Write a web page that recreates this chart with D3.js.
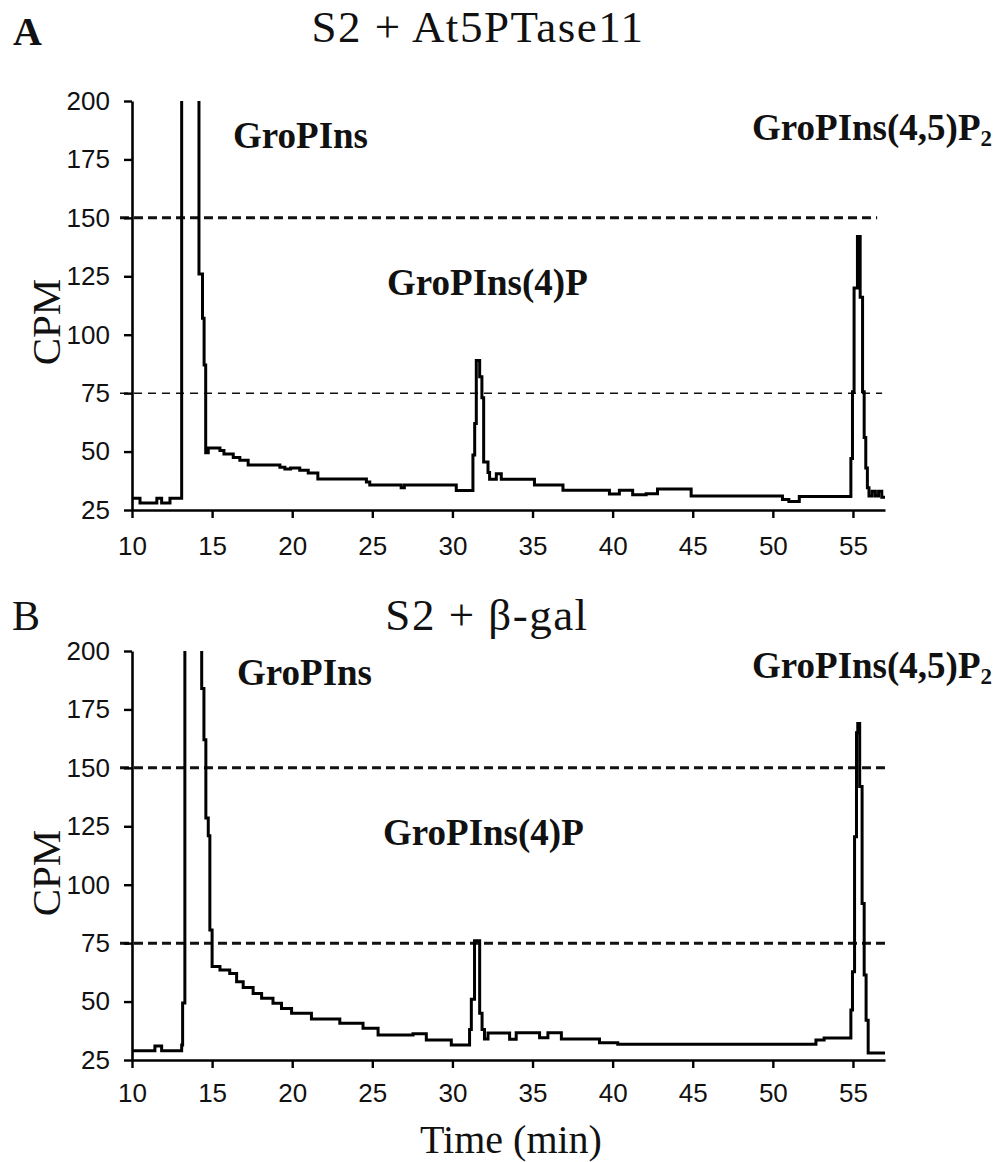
<!DOCTYPE html>
<html><head><meta charset="utf-8">
<script src="https://cdn.jsdelivr.net/npm/d3@7"></script>
<style>
body{margin:0;background:#fff;}
svg{display:block;}
</style></head>
<body>
<svg id="chart" width="1000" height="1162"></svg>
<script>
// ---- data ----
const xTicks = [10, 15, 20, 25, 30, 35, 40, 45, 50, 55];
const yTicks = [25, 50, 75, 100, 125, 150, 175, 200];
const xDomain = [10, 57];
const yDomain = [25, 200];

const timeA = [10.0, 10.5, 11.55, 11.85, 12.37, 13.1, 14.18, 14.4, 14.5, 14.6, 14.76, 15.49, 15.74, 16.32, 16.73, 17.25, 19.23, 19.54, 19.9, 20.47, 21.0, 21.6, 24.63, 24.84, 26.8, 27.0, 30.24, 31.28, 31.39, 31.49, 31.7, 31.84, 31.95, 32.22, 32.32, 32.74, 33.05, 35.12, 36.9, 39.8, 40.42, 41.25, 42.09, 42.8, 44.9, 50.6, 51.0, 51.65, 54.87, 54.97, 55.07, 55.28, 55.45, 55.6, 55.7, 55.8, 55.9, 56.0, 56.2, 56.4, 56.6, 56.8, 57.0];
const cpmA = [30, 28, 30, 28, 30, 250, 126, 107, 87, 49.5, 51.5, 50.5, 49, 47.5, 46.3, 44.3, 43.3, 42.5, 43, 42, 40.8, 38.3, 37, 35.7, 34.5, 35.7, 33.3, 48.5, 62, 89, 82, 73, 45.5, 41, 38.2, 40.5, 38.2, 35.7, 33.5, 31.8, 33.5, 31.5, 32, 34, 31, 29.5, 28.6, 30.8, 47, 75.6, 120, 142, 116, 75.6, 56, 43, 34.5, 31, 33, 31, 33, 30.5, 30.5];

const timeB = [10.0, 11.43, 11.85, 13.1, 13.16, 13.3, 14.35, 14.49, 14.61, 14.76, 14.86, 15.0, 15.49, 16.1, 16.53, 16.94, 17.56, 18.09, 18.8, 19.33, 19.96, 21.2, 22.97, 24.42, 25.36, 27.54, 28.37, 29.93, 31.07, 31.18, 31.38, 31.7, 31.85, 32.0, 32.22, 33.57, 33.98, 35.44, 35.96, 36.8, 39.18, 40.32, 52.69, 53.2, 54.87, 54.97, 55.1, 55.22, 55.3, 55.42, 55.57, 55.7, 55.82, 55.95, 57.0];
const cpmB = [29, 31, 29, 31.4, 49.4, 250, 184, 162, 128.5, 121, 80.6, 65, 63.5, 62, 58.5, 56, 53.5, 51.4, 49.3, 47, 45, 42.5, 40.7, 38.6, 35.7, 36.2, 33.6, 31.4, 38, 51, 76, 45, 38, 34, 36.5, 33.9, 36.7, 34.5, 36.7, 34, 32.4, 31.7, 33.6, 34.4, 46.4, 62.8, 120.5, 165, 169, 142, 92, 61.4, 42, 28, 28];

const refValues = [150, 75];
const refStartA = [9.25, 9.25], refEndA = [56.51, 56.82];
const refStartB = [9.25, 9.25], refEndB = [57.07, 57.13];

const panelLetters = ["A", "B"];
const titles = ["S2 + At5PTase11", "S2 + \u03B2-gal"];
const peakNames = ["GroPIns", "GroPIns(4)P", "GroPIns(4,5)P"];
const yLabel = "CPM";
const xLabel = "Time (min)";

// ---- drawing ----
const svg = d3.select("#chart");
const SERIF = "'Liberation Serif','Times New Roman',serif";
const SANS = "'Liberation Sans',Arial,Helvetica,sans-serif";

const panels = [
  {id:"A", time: timeA, cpm: cpmA, top: 101, bottom: 510, refStart: refStartA, refEnd: refEndA,
   refW: [3, 1.5], refDash: ["9,5", "8,6"], xPad: 19,
   letter: {x: 13, y: 45, weight: "bold", size: 40},
   title: {x: 478, y: 42},
   labels: [{x: 233, y: 148}, {x: 387, y: 295}, {x: 752, y: 140}],
   ylab: {x: 60, y: 322}},
  {id:"B", time: timeB, cpm: cpmB, top: 651, bottom: 1060, refStart: refStartB, refEnd: refEndB,
   refW: [3, 3], refDash: ["9,5", "9,5"], xPad: 16,
   letter: {x: 12, y: 630, weight: "normal", size: 42},
   title: {x: 487, y: 630},
   labels: [{x: 237, y: 685}, {x: 383, y: 845}, {x: 752, y: 678}],
   ylab: {x: 60, y: 873}}
];

const left = 132, right = 885;

panels.forEach((p, i) => {
  const x = d3.scaleLinear().domain(xDomain).range([left, right]);
  const y = d3.scaleLinear().domain(yDomain).range([p.bottom, p.top]);
  const g = svg.append("g");

  // clip
  const clipId = "clip" + p.id;
  svg.append("defs").append("clipPath").attr("id", clipId)
    .append("rect").attr("x", left - 20).attr("y", p.top).attr("width", right - left + 40).attr("height", p.bottom - p.top);

  // reference dashed lines
  refValues.forEach((v, k) => {
    g.append("line")
      .attr("x1", x(p.refStart[k])).attr("x2", x(p.refEnd[k]))
      .attr("y1", y(v)).attr("y2", y(v))
      .attr("stroke", "#111").attr("stroke-width", p.refW[k])
      .attr("stroke-dasharray", p.refDash[k]);
  });

  // trace
  const pts = p.time.map((t, j) => [t, p.cpm[j]]);
  const line = d3.line().x(d => x(d[0])).y(d => y(d[1])).curve(d3.curveStepAfter);
  g.append("path").datum(pts)
    .attr("clip-path", `url(#${clipId})`)
    .attr("d", line)
    .attr("fill", "none").attr("stroke", "#000").attr("stroke-width", 3)
    .attr("stroke-linejoin", "miter");

  // axes
  const yAxis = d3.axisLeft(y).tickValues(yTicks).tickSize(8).tickSizeOuter(0).tickPadding(14);
  const xAxis = d3.axisBottom(x).tickValues(xTicks).tickSize(8).tickSizeOuter(0).tickPadding(p.xPad);
  const gy = g.append("g").attr("transform", `translate(${left},0)`).call(yAxis);
  const gx = g.append("g").attr("transform", `translate(0,${p.bottom})`).call(xAxis);
  [gx, gy].forEach(ax => {
    ax.select(".domain").attr("stroke", "#000").attr("stroke-width", 2.6);
    ax.selectAll(".tick line").attr("stroke", "#000").attr("stroke-width", 2.4);
    ax.selectAll(".tick text").attr("font-family", SANS).attr("font-size", 26).attr("fill", "#111");
  });

  // panel letter
  svg.append("text").attr("x", p.letter.x).attr("y", p.letter.y)
    .attr("font-family", SERIF).attr("font-size", p.letter.size).attr("font-weight", p.letter.weight)
    .attr("fill", "#111").text(panelLetters[i]);

  // title
  svg.append("text").attr("x", p.title.x).attr("y", p.title.y).attr("text-anchor", "middle")
    .attr("font-family", SERIF).attr("font-size", 45).attr("letter-spacing", 1.5)
    .attr("fill", "#111").text(titles[i]);

  // peak labels
  p.labels.forEach((lp, k) => {
    const t = svg.append("text").attr("x", lp.x).attr("y", lp.y)
      .attr("font-family", SERIF).attr("font-size", 37).attr("font-weight", "bold").attr("fill", "#111")
      .text(peakNames[k]);
    if (k === 2) {
      t.append("tspan").attr("font-size", 23).attr("dy", 6).text("2");
    }
  });

  // y label
  svg.append("text")
    .attr("transform", `translate(${p.ylab.x},${p.ylab.y}) rotate(-90)`)
    .attr("text-anchor", "middle")
    .attr("font-family", SERIF).attr("font-size", 41).attr("fill", "#111")
    .text(yLabel);
});

// x label
svg.append("text").attr("x", 511).attr("y", 1153).attr("text-anchor", "middle")
  .attr("font-family", SERIF).attr("font-size", 40).attr("fill", "#111").text(xLabel);
</script>
</body></html>
